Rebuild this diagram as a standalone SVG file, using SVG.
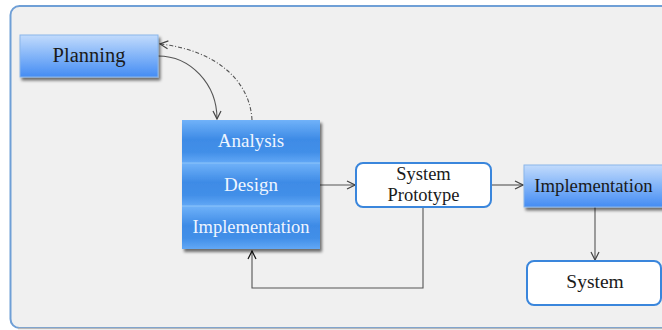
<svg xmlns="http://www.w3.org/2000/svg" width="662" height="330" viewBox="0 0 662 330">
  <defs>
    <linearGradient id="gradLight" x1="0" y1="0" x2="0" y2="1">
      <stop offset="0" stop-color="#c2dbfc"/>
      <stop offset="0.5" stop-color="#82b4f8"/>
      <stop offset="1" stop-color="#448cf4"/>
    </linearGradient>
    <linearGradient id="gradStack" x1="0" y1="0" x2="0" y2="1">
      <stop offset="0" stop-color="#70b2f9"/>
      <stop offset="0.45" stop-color="#3e8be6"/>
      <stop offset="0.75" stop-color="#428fe8"/>
      <stop offset="1" stop-color="#62a8f6"/>
    </linearGradient>
    <filter id="shadow" x="-10%" y="-10%" width="125%" height="130%">
      <feGaussianBlur in="SourceAlpha" stdDeviation="1.6"/>
      <feOffset dx="2" dy="3" result="o"/>
      <feComponentTransfer><feFuncA type="linear" slope="0.55"/></feComponentTransfer>
      <feMerge><feMergeNode/><feMergeNode in="SourceGraphic"/></feMerge>
    </filter>
    <marker id="arrow" viewBox="0 0 10 10" refX="9" refY="5" markerWidth="10" markerHeight="10" markerUnits="userSpaceOnUse" orient="auto">
      <path d="M1,1 L9,5 L1,9" fill="none" stroke="#444" stroke-width="1.2"/>
    </marker>
    <marker id="arrowDark" viewBox="0 0 10 10" refX="9" refY="5" markerWidth="10" markerHeight="10" markerUnits="userSpaceOnUse" orient="auto">
      <path d="M1,1 L9,5 L1,9" fill="none" stroke="#111" stroke-width="1.2"/>
    </marker>
  </defs>
  <style>
    .txt { font-family: "Liberation Serif", "Times New Roman", serif; text-anchor: middle; }
    .dark { fill: #1a1a1a; }
    .light { fill: #eef5ff; }
    .white-box { fill: #ffffff; stroke: #3a86dc; stroke-width: 2; }
    .conn { fill: none; stroke: #555; stroke-width: 1.1; }
  </style>

  <!-- background panel -->
  <rect x="0" y="0" width="662" height="330" fill="#ffffff"/>
  <rect x="10.5" y="6" width="672" height="322" rx="9" fill="#f0f0f0" stroke="#6f9fd6" stroke-width="2"/>
  <path d="M18,328.5 H662" stroke="#b8b8b8" stroke-width="1.5"/>

  <!-- connectors -->
  <g id="connectors">
    <path class="conn" d="M158,56 A59,63 0 0 1 217,119" marker-end="url(#arrow)"/>
    <path class="conn" d="M252,120 C250,80 215,50 160,44" stroke-dasharray="4 2 1 2" marker-end="url(#arrow)"/>
    <path class="conn" d="M320,185 H355" marker-end="url(#arrow)"/>
    <path class="conn" d="M491,185 H523" marker-end="url(#arrow)"/>
    <path class="conn" d="M595,207 V260" marker-end="url(#arrow)"/>
    <path class="conn" d="M423,207 V288 H252 V251" stroke="#222" marker-end="url(#arrowDark)"/>
  </g>

  <!-- Planning -->
  <g id="planning">
    <rect x="20" y="35" width="138" height="42" fill="url(#gradLight)" stroke="#8ab6ea" stroke-width="1" filter="url(#shadow)"/>
    <text class="txt dark" x="89" y="62" font-size="20.5">Planning</text>
  </g>

  <!-- Analysis / Design / Implementation stack -->
  <g id="stack" filter="url(#shadow)">
    <rect x="182" y="120" width="138" height="43" fill="url(#gradStack)"/>
    <rect x="182" y="163" width="138" height="43" fill="url(#gradStack)"/>
    <rect x="182" y="206" width="138" height="43" fill="url(#gradStack)"/>
    <path d="M182,163 H320 M182,206 H320" stroke="#8cc4fa" stroke-width="1"/>
  </g>
  <g id="analysis">
    <text class="txt light" x="251" y="147" font-size="19">Analysis</text>
  </g>
  <g id="design">
    <text class="txt light" x="251" y="191" font-size="19">Design</text>
  </g>
  <g id="implementation-phase">
    <text class="txt light" x="251" y="233" font-size="18.5">Implementation</text>
  </g>

  <!-- System Prototype -->
  <g id="system-prototype">
    <rect class="white-box" x="356" y="163" width="135" height="44" rx="7"/>
    <text class="txt dark" x="423.5" y="180" font-size="18.5">System</text>
    <text class="txt dark" x="423.5" y="201" font-size="18.5">Prototype</text>
  </g>

  <!-- Implementation -->
  <g id="implementation">
    <rect x="524" y="165" width="150" height="42" fill="url(#gradLight)" stroke="#8ab6ea" stroke-width="1" filter="url(#shadow)"/>
    <text class="txt dark" x="593.5" y="192" font-size="18.7">Implementation</text>
  </g>

  <!-- System -->
  <g id="system">
    <rect class="white-box" x="527" y="261" width="134" height="44" rx="7"/>
    <text class="txt dark" x="595" y="288" font-size="19.5">System</text>
  </g>
</svg>
